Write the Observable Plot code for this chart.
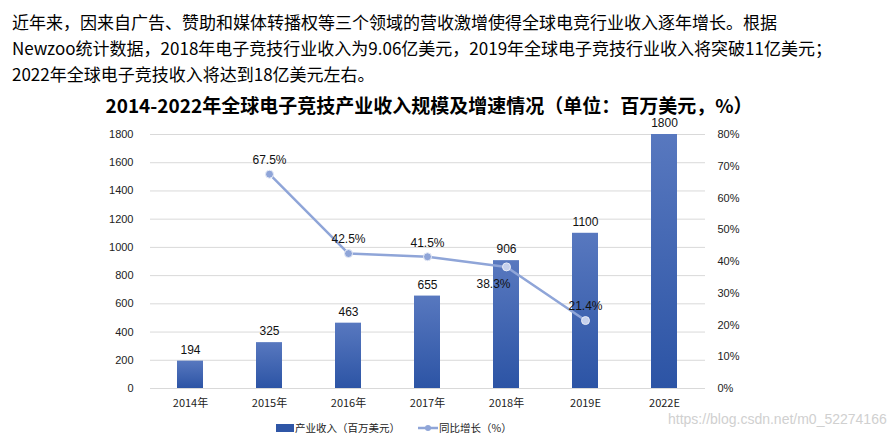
<!DOCTYPE html>
<html><head><meta charset="utf-8">
<script src="https://cdn.jsdelivr.net/npm/d3@7"></script>
<script src="https://cdn.jsdelivr.net/npm/@observablehq/plot@0.6"></script>
<style>
body{margin:0;background:#fff;width:887px;height:440px;overflow:hidden;position:relative;font-family:"Noto Sans CJK SC",sans-serif;color:#000}
#intro{position:absolute;left:12px;top:9px;font-size:17px;line-height:26px;white-space:nowrap}
#title{position:absolute;left:0;width:858px;top:94px;text-align:center;font-size:19px;font-weight:bold;line-height:21px;white-space:nowrap}
#chart{position:absolute;left:0;top:100px}
#chart svg{overflow:visible}
#legend{position:absolute;top:420px;left:276px;font-size:10.5px;line-height:16px;display:flex;align-items:center;color:#222;white-space:nowrap}
#wm{position:absolute;left:668px;top:411px;font-family:"Liberation Sans",sans-serif;font-size:14px;color:#d0d0d0}
</style></head>
<body>
<div id="intro">近年来，因来自广告、赞助和媒体转播权等三个领域的营收激增使得全球电竞行业收入逐年增长。根据<br>Newzoo统计数据，2018年电子竞技行业收入为9.06亿美元，2019年全球电子竞技行业收入将突破11亿美元；<br>2022年全球电子竞技收入将达到18亿美元左右。</div>
<div id="title">2014-2022年全球电子竞技产业收入规模及增速情况（单位：百万美元，%）</div>
<div id="chart"></div>
<div id="wm">https://blog.csdn.net/m0_52274166</div>
<div id="legend">
  <svg width="18" height="10"><rect x="0" y="1" width="18" height="8" fill="#2f56a6"/></svg>
  <span style="margin-left:1px">产业收入（百万美元）</span>
  <svg width="20" height="10" style="margin-left:18px"><line x1="0" y1="5" x2="20" y2="5" stroke="#8fa5d8" stroke-width="2.5"/><circle cx="10" cy="5" r="3" fill="#8fa5d8"/></svg>
  <span style="margin-left:1px">同比增长（%）</span>
</div>
<script>
const years = ["2014年","2015年","2016年","2017年","2018年","2019E","2022E"];
const revenue = [194, 325, 463, 655, 906, 1100, 1800];
const growthYears = ["2015年","2016年","2017年","2018年","2019E"];
const growth = [67.5, 42.5, 41.5, 38.3, 21.4];
const leftTicks = [0,200,400,600,800,1000,1200,1400,1600,1800];
const rightTicks = [0,10,20,30,40,50,60,70,80];

const k = 1800 / 80; // map percent onto revenue axis
const bars = years.map((y, i) => ({year: y, value: revenue[i]}));
const pts = growthYears.map((y, i) => ({year: y, g: growth[i]}));
const below = new Set(["2018年"]);

const chart = Plot.plot({
  width: 887, height: 318,
  marginLeft: 150, marginRight: 182, marginTop: 34, marginBottom: 30,
  style: {fontFamily: "'Liberation Sans', 'Noto Sans CJK SC', sans-serif", fontSize: "11px", color: "#222", background: "transparent"},
  x: {domain: years, paddingInner: 0.67, paddingOuter: 0.335, label: null},
  y: {domain: [0, 1800], label: null},
  marks: [
    Plot.gridY(leftTicks, {stroke: "#d9d9d9", strokeOpacity: 1, strokeWidth: 1}),
    Plot.barY(bars, {x: "year", y: "value", fill: "url(#barGrad)"}),
    Plot.text(bars, {x: "year", y: "value", text: d => String(d.value), dy: -11, fontSize: 12, fill: "#111"}),
    Plot.line(pts, {x: "year", y: d => d.g * k, stroke: "#8fa5d8", strokeWidth: 2.5}),
    Plot.dot(pts, {x: "year", y: d => d.g * k, r: 4, fill: d => below.has(d.year) || d.year === "2019E" ? "#c5d0ec" : "#8fa5d8", stroke: "#e8ecf7", strokeWidth: 1}),
    Plot.text(pts, {x: "year", y: d => d.g * k, text: d => d.g.toFixed(1) + "%", fontSize: 12, fill: "#111",
      filter: d => !below.has(d.year), dy: -14}),
    Plot.text(pts, {x: "year", y: d => d.g * k, text: d => d.g.toFixed(1) + "%", fontSize: 12, fill: "#111",
      filter: d => below.has(d.year), dx: -13, dy: 17}),
    Plot.axisY(leftTicks, {anchor: "left", tickSize: 0, tickPadding: 17, fontSize: 11, label: null, tickFormat: d => String(d)}),
    Plot.axisY(rightTicks.map(v => v * k), {anchor: "right", tickSize: 0, tickPadding: 12, fontSize: 11, label: null, tickFormat: v => Math.round(v / k) + "%"}),
    Plot.axisX({anchor: "bottom", tickSize: 0, tickPadding: 11, fontSize: 11, label: null, fontFamily: "'Noto Sans CJK SC', sans-serif"}),
    Plot.ruleY([0], {stroke: "#d9d9d9"})
  ]
});
const ns = "http://www.w3.org/2000/svg";
const defs = document.createElementNS(ns, "defs");
defs.innerHTML = '<linearGradient id="barGrad" x1="0" y1="0" x2="0" y2="1"><stop offset="0" stop-color="#5878bf"/><stop offset="1" stop-color="#2c54a5"/></linearGradient>';
chart.insertBefore(defs, chart.firstChild);
document.getElementById("chart").appendChild(chart);
</script>
</body></html>
